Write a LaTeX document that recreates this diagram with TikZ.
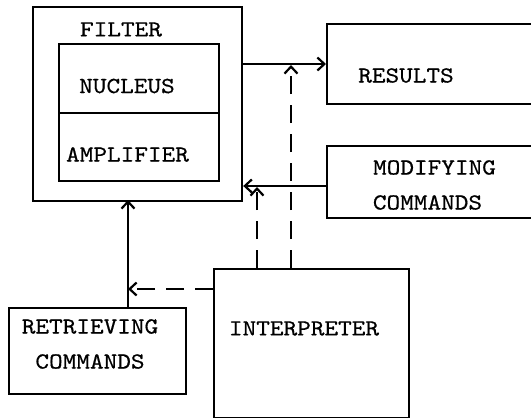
\documentclass[tikz,border=0pt]{standalone}
\usepackage{fontspec}
\newfontfamily\typew{lmmono10-regular.otf}[FakeStretch=1.13,FakeBold=0.6]
\usetikzlibrary{arrows.meta}
\begin{document}
\begin{tikzpicture}[x=1pt,y=-1pt,
  box/.style={draw,line width=2.2pt,rectangle,inner sep=0pt,anchor=north west},
  lbl/.style={inner sep=0pt,font=\typew\fontsize{23}{25}\selectfont},
  conn/.style={line width=2.2pt,-{Straight Barb[length=7pt,width=13pt,line width=2.2pt]}},
  dconn/.style={conn,dash pattern=on 18pt off 11pt}]
\path[use as bounding box] (0,0) rectangle (531,418);
\clip (0,0) rectangle (531,418);
% boxes
\node[box,minimum width=209pt,minimum height=194pt] (filter) at (32,6) {};
\node[box,minimum width=160pt,minimum height=69pt] (nucleus) at (58,43) {};
\node[box,minimum width=160pt,minimum height=68pt] (amplifier) at (58,112) {};
\node[box,minimum width=230pt,minimum height=80pt] (results) at (326,23) {};
\node[box,minimum width=230pt,minimum height=72pt] (modifying) at (326,145) {};
\node[box,minimum width=177pt,minimum height=86pt] (retrieving) at (8,307) {};
\node[box,minimum width=195pt,minimum height=149pt] (interp) at (213,268) {};
% labels
\node[lbl] (tfilter) at (121,29.5) {FILTER};
\node[lbl] (tnucleus) at (127,86) {NUCLEUS};
\node[lbl] (tamp) at (127.5,154.5) {AMPLIFIER};
\node[lbl] (tresults) at (406,75.5) {RESULTS};
\node[lbl] (tmod1) at (434.5,167.5) {MODIFYING};
\node[lbl] (tmod2) at (427.5,202.5) {COMMANDS};
\node[lbl] (tret1) at (90,326.5) {RETRIEVING};
\node[lbl] (tret2) at (90,361.5) {COMMANDS};
\node[lbl] (tint) at (304,328.5) {INTERPRETER};
% connectors
\coordinate (fr) at (filter.north east |- 0,64);
\coordinate (rl) at (results.north west |- 0,64);
\draw[conn] (fr) -- (rl);
\coordinate (ml) at (modifying.north west |- 0,186);
\coordinate (fl) at (filter.north east |- 0,186);
\draw[conn] (ml) -- (fl);
\coordinate (rt) at (128,307);
\coordinate (fb) at (128,200);
\draw[conn] (rt) -- (fb);
\coordinate (il) at (213,289);
\coordinate (vl) at (128,289);
\draw[dconn] (il) -- (vl);
\coordinate (it1) at (257,268);
\coordinate (a1) at (257,187);
\draw[dconn] (it1) -- (a1);
\coordinate (it2) at (291,268);
\coordinate (a2) at (291,65);
\draw[dconn] (it2) -- (a2);
\end{tikzpicture}
\end{document}
